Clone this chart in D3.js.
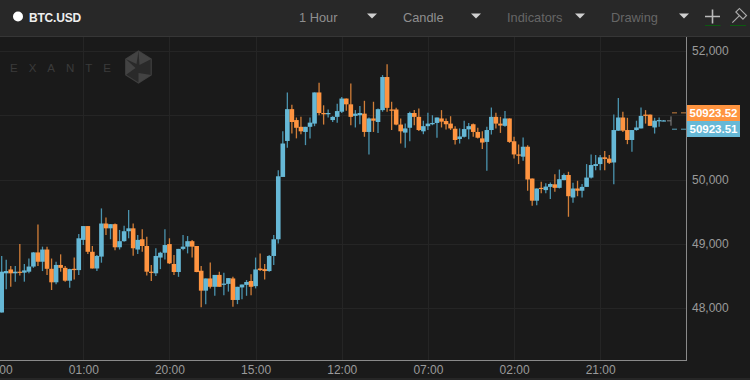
<!DOCTYPE html>
<html><head><meta charset="utf-8">
<style>html,body{margin:0;padding:0;background:#1a1a1a;overflow:hidden}svg{display:block}text{font-family:"Liberation Sans",Arial,sans-serif}</style>
<script src="https://cdn.jsdelivr.net/npm/d3@7"></script></head><body><div id="c"></div>
<script>
const opens=[47930,48540,48600,48540,48565,48550,48565,48645,48865,48720,48910,48610,48400,48670,48625,48425,48610,48590,49060,49275,48875,48615,48800,49315,49240,49305,48945,49040,49195,49240,48910,49070,48965,48565,48540,48785,48860,48995,48685,48560,48920,48955,49040,48965,48580,48270,48460,48330,48515,48360,48375,48460,48125,48320,48360,48420,48340,48615,48605,48575,48810,49070,50040,50600,51095,50925,50820,50740,50820,50870,51355,51035,51015,50925,50975,51055,51260,51170,50990,51000,51025,50740,50950,50895,51080,51595,51090,51090,50855,50730,50805,51035,50975,50750,50830,50860,50880,50950,50910,50870,50790,50630,50665,50780,50860,50740,50640,50585,50770,50975,50870,50835,50950,50595,50390,50355,50510,50015,49670,49870,49835,49885,49925,49870,49990,50070,49720,49860,49825,49885,50030,50210,50240,50345,50325,50265,50760,50965,50770,50615,50770,50795,51010,51010,50810,50905,50910];
const highs=[48810,48750,48655,48655,48995,48685,48770,48870,49300,48955,48955,48770,48720,48835,48655,48610,48785,49150,49275,49275,48965,48825,49550,49410,49305,49315,49215,49280,49525,49315,49135,49225,49110,48670,48930,48875,49225,49085,48825,48920,49135,49120,49060,48965,48655,48460,48710,48515,48565,48550,48465,48485,48330,48365,48435,48525,48785,48850,48685,48825,49135,50145,50750,51355,51165,50965,50975,50820,50965,51355,51505,51155,51090,50985,51180,51285,51260,51495,51080,51145,51225,50965,51210,51105,51625,51795,51210,51115,50950,50870,51055,51080,51105,50915,51040,51000,50965,51080,50950,50985,50830,50795,50915,50880,50870,50805,50750,50820,51120,51040,50975,51065,50950,50665,50545,50655,50535,50015,49860,49965,49940,49955,50080,50155,50095,50120,49950,49980,49930,50240,50390,50380,50380,50445,50380,51010,51270,51055,50960,50770,50915,51120,51080,51010,50960,50965,50925];
const lows=[47930,48290,48330,48410,48505,48410,48540,48625,48655,48575,48515,48280,48370,48565,48410,48315,48445,48515,48980,48840,48615,48575,48705,49135,49070,48900,48910,49030,49085,48815,48840,48875,48505,48420,48500,48605,48755,48685,48515,48485,48900,48850,48785,48555,48010,48060,48305,48190,48330,48200,48255,48020,48060,48135,48190,48200,48305,48575,48445,48565,48670,49005,50040,50495,50715,50640,50705,50535,50640,50830,51000,50855,50965,50895,50885,51035,51070,50845,50810,50860,50665,50390,50740,50725,51055,51055,50770,50845,50560,50495,50595,50845,50755,50705,50770,50845,50650,50810,50780,50770,50545,50560,50655,50625,50665,50640,50475,50135,50700,50795,50725,50820,50570,50325,50240,50290,49825,49590,49600,49785,49785,49695,49810,49860,49990,49420,49640,49740,49720,49885,50015,50145,50145,50145,50240,49925,50760,50740,50550,50430,50760,50795,50870,50835,50715,50820,50905];
const closes=[48565,48575,48540,48565,48550,48585,48645,48865,48720,48910,48610,48400,48670,48625,48425,48605,48590,49085,49275,48875,48615,48810,49315,49240,49305,48945,49040,49195,49240,48930,49060,48965,48565,48550,48810,48860,48980,48695,48560,48920,48955,49040,48955,48560,48270,48460,48330,48515,48330,48380,48465,48125,48330,48365,48405,48330,48600,48590,48575,48810,49070,50050,50560,51095,50895,50805,50750,50820,50885,51355,51035,51015,51035,50975,51065,51260,51170,50975,51025,51035,50740,50950,50915,51095,51595,51115,51070,50855,50750,50795,51035,50975,50770,50830,50870,50880,50965,50900,50860,50795,50615,50670,50785,50830,50740,50650,50575,50770,50975,50870,50840,50950,50585,50390,50370,50510,50000,49670,49860,49855,49890,49930,49870,50005,50070,49740,49860,49825,49885,50030,50225,50240,50345,50320,50260,50770,50965,50760,50615,50770,50810,50990,50990,50835,50915,50925,50920];
const xTickIndex=[-1,18,37,56,75,94,113,132];
const xTickLabels=["00:00","01:00","20:00","15:00","12:00","07:00","02:00","21:00"];
const yTickValues=[48000,49000,50000,52000];
const yGridValues=[48000,49000,50000,51000,52000];
const askPrice=50923.52, bidPrice=50923.51;
const askLevel=51037, bidLevel=50783, lastLevel=50913;
const menus=["1 Hour","Candle","Indicators","Drawing"];

const W=750,H=380,axisX=686,axisY=360,plotTop=36;
const svg=d3.select("#c").append("svg").attr("width",W).attr("height",H);
svg.append("rect").attr("width",W).attr("height",H).attr("fill","#1a1a1a");
const x=d3.scaleLinear().domain([18,132]).range([83.3,600.2]);
const y=d3.scaleLinear().domain([48000,52000]).range([308,51]);

svg.append("defs").append("clipPath").attr("id","pl").append("rect").attr("x",0).attr("y",plotTop).attr("width",axisX).attr("height",axisY-plotTop);

// grid
const grid=svg.append("g").attr("stroke","#252525").attr("shape-rendering","crispEdges");
grid.selectAll(".v").data(xTickIndex).join("line").attr("class","v").attr("x1",d=>Math.round(x(d))+.5).attr("x2",d=>Math.round(x(d))+.5).attr("y1",plotTop).attr("y2",axisY);
grid.selectAll(".h").data(yGridValues).join("line").attr("class","h").attr("y1",d=>Math.round(y(d))+.5).attr("y2",d=>Math.round(y(d))+.5).attr("x1",0).attr("x2",axisX);

// watermark
const wm=svg.append("g");
wm.append("text").attr("x",10).attr("y",71.5).attr("fill","#3a3a3a").attr("font-size",11.5).attr("letter-spacing","11px").text("EXANTE");
const cx=138.5,cy=67,r=16;
const hex=d3.range(6).map(k=>{const a=Math.PI/3*k-Math.PI/2;return [cx+r*Math.cos(a)*.92,cy+r*Math.sin(a)];});
wm.append("polygon").attr("points",hex.join(" ")).attr("fill","#2a2a2a").attr("stroke","#3e3e3e").attr("stroke-width",1.2);
[[0,1,[cx+1,cy-2]],[2,3,[cx,cy+6]],[4,5,[cx-3,cy+1]],[5,0,[cx-2,cy-3]]].forEach(t=>{
  wm.append("polygon").attr("points",[hex[t[0]],hex[t[1]],t[2]].join(" ")).attr("fill","#434343");
});

// candles
const idx=d3.range(opens.length);
const blue="#66b8d6",orange="#ff9440",blueW="#4a93ae",orangeW="#d27e38";
const plot=svg.append("g").attr("clip-path","url(#pl)");
const up=i=>closes[i]>=opens[i];
plot.selectAll("line.w").data(idx).join("line").attr("class","w")
 .attr("x1",i=>x(i)).attr("x2",i=>x(i)).attr("y1",i=>y(highs[i])).attr("y2",i=>y(lows[i]))
 .attr("stroke",i=>up(i)?blueW:orangeW).attr("stroke-width",1.3);
plot.selectAll("rect.b").data(idx).join("rect").attr("class","b")
 .attr("x",i=>x(i)-2.3).attr("width",4.6)
 .attr("y",i=>y(Math.max(opens[i],closes[i])))
 .attr("height",i=>Math.max(1.2,Math.abs(y(opens[i])-y(closes[i]))))
 .attr("fill",i=>up(i)?blue:orange);

// price dashes
const dashes=svg.append("g").attr("fill","none").attr("stroke-width",1);
dashes.append("line").attr("x1",672).attr("x2",axisX).attr("y1",y(askLevel)).attr("y2",y(askLevel)).attr("stroke","#c9803f").attr("stroke-dasharray","5 4");
dashes.append("line").attr("x1",672).attr("x2",axisX).attr("y1",y(bidLevel)).attr("y2",y(bidLevel)).attr("stroke","#58a0ba").attr("stroke-dasharray","5 4");
dashes.append("line").attr("x1",667).attr("x2",671).attr("y1",y(lastLevel)).attr("y2",y(lastLevel)).attr("stroke","#888");
dashes.append("line").attr("x1",671).attr("x2",671).attr("y1",y(askLevel)+3.5).attr("y2",y(bidLevel)-3.5).attr("stroke","#888");

// axes
const xAxis=d3.axisBottom(x).tickValues(xTickIndex).tickFormat((d,i)=>xTickLabels[i]).tickSize(0).tickPadding(5);
const gx=svg.append("g").attr("transform",`translate(0,${axisY})`).call(xAxis);
gx.select(".domain").remove();
gx.selectAll("text").attr("fill","#9a9a9a").attr("font-size",12).attr("font-family",'"Liberation Sans",Arial,sans-serif');
const yAxis=d3.axisRight(y).tickValues(yTickValues).tickFormat(d3.format(",")).tickSize(0).tickPadding(6);
const gy=svg.append("g").attr("transform",`translate(${axisX},0)`).call(yAxis);
gy.select(".domain").remove();
gy.selectAll("text").attr("fill","#9a9a9a").attr("font-size",12).attr("font-family",'"Liberation Sans",Arial,sans-serif');
svg.append("line").attr("x1",0).attr("x2",axisX+.5).attr("y1",axisY+.5).attr("y2",axisY+.5).attr("stroke","#8a8a8a");
svg.append("line").attr("x1",axisX+.5).attr("x2",axisX+.5).attr("y1",plotTop).attr("y2",axisY+1).attr("stroke","#8a8a8a");
svg.append("rect").attr("x",0).attr("y",378).attr("width",W).attr("height",2).attr("fill","#262626");

// price tags
[[askPrice,105,"#ff9440"],[bidPrice,121,"#66b8d6"]].forEach(p=>{
  svg.append("rect").attr("x",687).attr("y",p[1]).attr("width",53).attr("height",16).attr("fill",p[2]);
  svg.append("text").attr("x",713.5).attr("y",p[1]+12).attr("text-anchor","middle").attr("font-size",11.5).attr("font-weight","bold").attr("fill","#fff").text(p[0].toFixed(2));
});

// header
svg.append("rect").attr("width",W).attr("height",36).attr("fill","#282828");
svg.append("line").attr("x1",0).attr("x2",W).attr("y1",36.5).attr("y2",36.5).attr("stroke","#363636");
svg.append("circle").attr("cx",18).attr("cy",16.5).attr("r",5).attr("fill","#fff");
svg.append("text").attr("x",29).attr("y",21.5).attr("font-size",12).attr("font-weight","bold").attr("fill","#eee").attr("letter-spacing","-.2px").text("BTC.USD");
const menuX=[299,403,507,611],caretX=[372,476,580,684],menuC=["#8f8f8f","#8f8f8f","#666","#666"];
menus.forEach((m,i)=>{
  svg.append("text").attr("x",menuX[i]).attr("y",22).attr("font-family","Lato").attr("font-size",12.8).attr("fill",menuC[i]).text(m);
  svg.append("path").attr("d",`M${caretX[i]-5},13.5h10l-5,5z`).attr("fill","#d0d0d0");
});
svg.append("path").attr("d","M712.5,9.5v14M705,16.5h15").attr("stroke","#bbb").attr("stroke-width",1.6).attr("fill","none");
svg.append("line").attr("x1",705).attr("x2",720.5).attr("y1",25.5).attr("y2",25.5).attr("stroke","#0c5a10");
const hm=svg.append("g").attr("transform","translate(738,17) rotate(45)").attr("fill","none").attr("stroke","#aaa").attr("stroke-width",1.2);
hm.append("rect").attr("x",-5).attr("y",-7).attr("width",10).attr("height",5);
hm.append("line").attr("x1",0).attr("x2",0).attr("y1",-2).attr("y2",8);
svg.append("line").attr("x1",730).attr("x2",746).attr("y1",25.5).attr("y2",25.5).attr("stroke","#0c5a10");
</script></body></html>
